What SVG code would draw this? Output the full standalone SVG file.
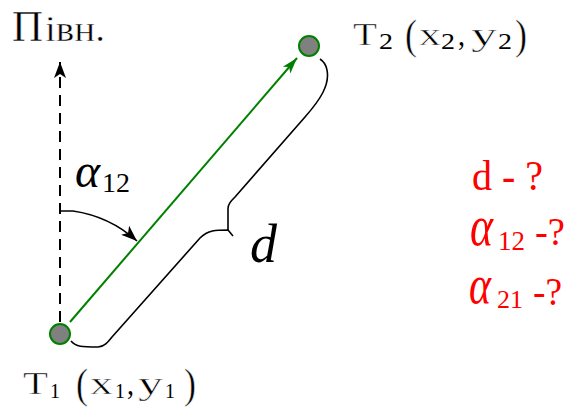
<svg xmlns="http://www.w3.org/2000/svg" width="569" height="412" viewBox="0 0 569 412">
<style>
.t{font-family:"Liberation Serif","Times New Roman",serif;fill:#000;stroke:#fff;stroke-width:0.5}
.s{stroke:none}
.r{fill:#ff0000}
.i{font-style:italic}
.pt{fill:#808080;stroke:#008000;stroke-width:2}
.br{fill:none;stroke:#000;stroke-width:1.6;stroke-linejoin:round}
</style>
<defs>
<marker id="ag" markerWidth="18" markerHeight="12" refX="16" refY="6" orient="auto" markerUnits="userSpaceOnUse">
<path d="M0,1 L16,6 L0,11 L4,6 Z" fill="#008000"/>
</marker>
<marker id="ab" markerWidth="18" markerHeight="14" refX="16" refY="7" orient="auto" markerUnits="userSpaceOnUse">
<path d="M0,1 L16,7 L0,13 L4,7 Z" fill="#000"/>
</marker>
</defs>
<rect width="569" height="412" fill="#fff"/>
<g id="connectors">
<line x1="60" y1="322" x2="60" y2="62" stroke="#000" stroke-width="2" stroke-dasharray="11 7" marker-end="url(#ab)"/>
<line x1="70" y1="322" x2="297" y2="58" stroke="#008000" stroke-width="2" marker-end="url(#ag)"/>
<path d="M60,204 L60,211 L73,211 A122,122 0 0 1 137,241" fill="none" stroke="#000" stroke-width="1.6" marker-end="url(#ab)"/>
<path class="br" d="M71,341 C76,347 82,347 98,347 C104,347 108,342 112,337 L200,238 C208,230 216,230 228,230 L233,236"/>
<path class="br" d="M228,230 L228,209 C228,204 231,201 235,197 L305,117 C320,100 330,85 327,70 C326,64 323,61 320,59"/>
</g>
<g id="T1">
<circle class="pt" cx="60" cy="334" r="10"/>
<text class="t" x="23" y="394" font-size="31" textLength="25" lengthAdjust="spacingAndGlyphs">T</text>
<text class="t s" x="50" y="398" font-size="22" textLength="10" lengthAdjust="spacingAndGlyphs">1</text>
<text class="t" x="76" y="398" font-size="42" textLength="12" lengthAdjust="spacingAndGlyphs">(</text>
<text class="t" x="90" y="394" font-size="31" textLength="23" lengthAdjust="spacingAndGlyphs">x</text>
<text class="t s" x="115" y="398" font-size="22" textLength="10" lengthAdjust="spacingAndGlyphs">1</text>
<text class="t s" x="127" y="394" font-size="31" textLength="7" lengthAdjust="spacingAndGlyphs">,</text>
<text class="t" x="138" y="394" font-size="31" textLength="25" lengthAdjust="spacingAndGlyphs">y</text>
<text class="t s" x="165" y="398" font-size="22" textLength="10" lengthAdjust="spacingAndGlyphs">1</text>
<text class="t" x="184" y="398" font-size="42" textLength="12" lengthAdjust="spacingAndGlyphs">)</text>
</g>
<g id="T2">
<circle class="pt" cx="309" cy="46" r="10"/>
<text class="t" x="353" y="45" font-size="31" textLength="24" lengthAdjust="spacingAndGlyphs">T</text>
<text class="t s" x="379" y="49" font-size="23" textLength="14" lengthAdjust="spacingAndGlyphs">2</text>
<text class="t" x="405" y="49" font-size="42" textLength="12" lengthAdjust="spacingAndGlyphs">(</text>
<text class="t" x="419" y="45" font-size="31" textLength="22" lengthAdjust="spacingAndGlyphs">x</text>
<text class="t s" x="441" y="49" font-size="23" textLength="14" lengthAdjust="spacingAndGlyphs">2</text>
<text class="t s" x="458" y="45" font-size="31" textLength="7" lengthAdjust="spacingAndGlyphs">,</text>
<text class="t" x="471" y="45" font-size="31" textLength="26" lengthAdjust="spacingAndGlyphs">y</text>
<text class="t s" x="498" y="49" font-size="23" textLength="14" lengthAdjust="spacingAndGlyphs">2</text>
<text class="t" x="515" y="49" font-size="42" textLength="12" lengthAdjust="spacingAndGlyphs">)</text>
</g>
<g id="north">
<text class="t" x="12" y="41" font-size="44" textLength="31" lengthAdjust="spacingAndGlyphs">П</text>
<text class="t" x="45" y="41" font-size="36" textLength="60" lengthAdjust="spacingAndGlyphs">івн.</text>
</g>
<g id="angle-label">
<text class="t i s" x="75" y="187" font-size="48" textLength="25" lengthAdjust="spacingAndGlyphs">α</text>
<text class="t s" x="102" y="192" font-size="28" textLength="28" lengthAdjust="spacingAndGlyphs">12</text>
</g>
<g id="d-label">
<text class="t i s" x="250" y="262" font-size="54" textLength="27" lengthAdjust="spacingAndGlyphs">d</text>
</g>
<g id="unknowns">
<text class="t r s" x="472" y="190" font-size="43" textLength="71" lengthAdjust="spacingAndGlyphs">d - ?</text>
<text class="t r i s" x="470" y="245" font-size="58" textLength="23" lengthAdjust="spacingAndGlyphs">α</text>
<text class="t r s" x="498" y="250" font-size="28" textLength="27" lengthAdjust="spacingAndGlyphs">12</text>
<text class="t r s" x="535" y="245" font-size="40" textLength="30" lengthAdjust="spacingAndGlyphs">-?</text>
<text class="t r i s" x="469" y="303" font-size="54" textLength="22" lengthAdjust="spacingAndGlyphs">α</text>
<text class="t r s" x="497" y="308" font-size="26" textLength="26" lengthAdjust="spacingAndGlyphs">21</text>
<text class="t r s" x="533" y="305" font-size="40" textLength="29" lengthAdjust="spacingAndGlyphs">-?</text>
</g>
</svg>
